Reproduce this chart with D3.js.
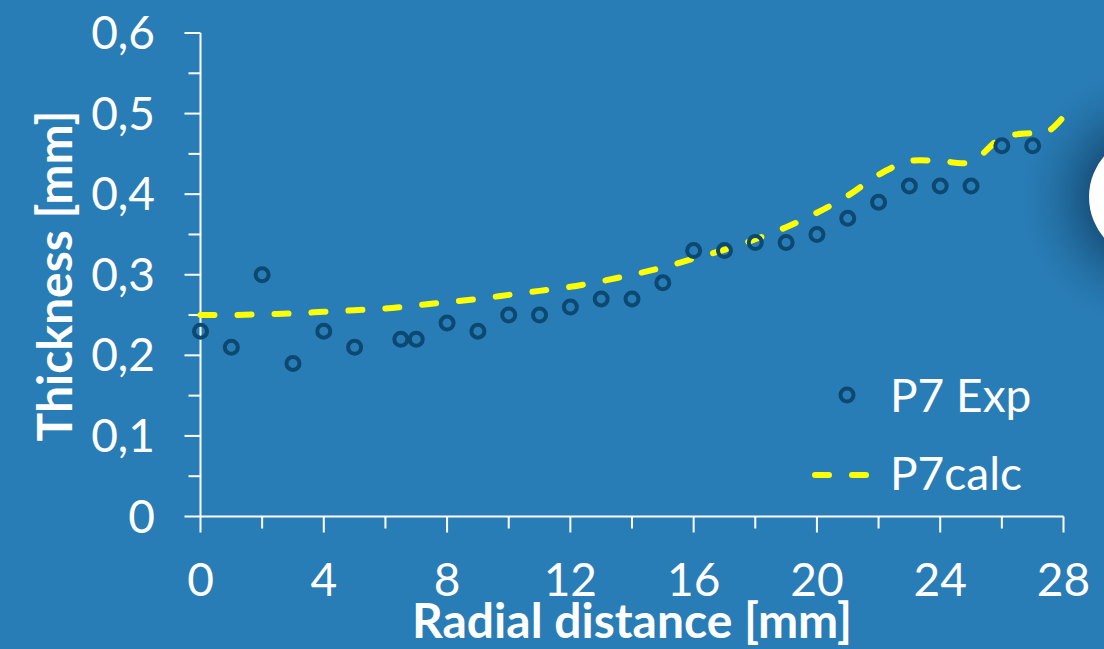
<!DOCTYPE html>
<html><head><meta charset="utf-8">
<script src="https://cdn.jsdelivr.net/npm/d3@7"></script>
<style>
html,body{margin:0;padding:0;background:#297db7;}
svg{display:block;font-family:Lato, "Open Sans", sans-serif;}
</style></head><body>
<svg id="chart" width="1104" height="649"></svg>
<script>
const expX = [0,1,2,3,4,5,6.5,7,8,9,10,11,12,13,14,15,16,17,18,19,20,21,22,23,24,25,26,27];
const expY = [0.23,0.21,0.30,0.19,0.23,0.21,0.22,0.22,0.24,0.23,0.25,0.25,0.26,0.27,0.27,0.29,0.33,0.33,0.34,0.34,0.35,0.37,0.39,0.41,0.41,0.41,0.46,0.46];
const calcX = [0,1,2,3,4,5,6,7,8,9,10,11,12,13,14,15,16,17,18,19,20,21,22,23,24,25,26,27,27.5,28];
const calcY = [0.250,0.250,0.251,0.252,0.254,0.256,0.258,0.262,0.266,0.270,0.275,0.280,0.285,0.292,0.300,0.309,0.320,0.331,0.344,0.359,0.377,0.398,0.424,0.441,0.441,0.440,0.470,0.476,0.478,0.496];
const xTicks = [0,4,8,12,16,20,24,28];
const yTicks = [0,0.1,0.2,0.3,0.4,0.5,0.6];
const yTickLabels = ["0","0,1","0,2","0,3","0,4","0,5","0,6"];
const seriesNames = ["P7 Exp","P7calc"];

const svg = d3.select("#chart");
const W = 1104, H = 649;
svg.append("rect").attr("width",W).attr("height",H).attr("fill","#297db7");

// decorative shadowed circle on right
const defs = svg.append("defs");
const rg = defs.append("radialGradient").attr("id","shadow");
rg.append("stop").attr("offset","0.42").attr("stop-color","#164e78").attr("stop-opacity",0.9);
rg.append("stop").attr("offset","0.6").attr("stop-color","#1b5b88").attr("stop-opacity",0.6);
rg.append("stop").attr("offset","1").attr("stop-color","#297db7").attr("stop-opacity",0);
svg.append("circle").attr("cx",1152).attr("cy",197).attr("r",145).attr("fill","url(#shadow)");
svg.append("circle").attr("cx",1152).attr("cy",197).attr("r",63).attr("fill","#ffffff");

const x = d3.scaleLinear().domain([0,28]).range([200.5,1063.5]);
const y = d3.scaleLinear().domain([0,0.6]).range([516.5,33]);

const white = "#ffffff";
// y axis
const yAxis = svg.append("g");
yAxis.append("line").attr("x1",x(0)).attr("x2",x(0)).attr("y1",y(0)).attr("y2",y(0.6)).attr("stroke",white).attr("stroke-width",2);
d3.range(0,0.6001,0.05).forEach((v,i)=>{
  const major = i%2===0;
  yAxis.append("line").attr("x1",x(0)).attr("x2",x(0)-(major?16:12)).attr("y1",y(v)).attr("y2",y(v)).attr("stroke",white).attr("stroke-width",2);
});
yAxis.selectAll("text.yl").data(yTicks).enter().append("text")
  .attr("x",155).attr("y",d=>y(d)+16).attr("text-anchor","end")
  .attr("font-size",46).attr("fill",white).text((d,i)=>yTickLabels[i]);

// x axis
const xAxis = svg.append("g");
xAxis.append("line").attr("x1",x(0)).attr("x2",x(28)).attr("y1",y(0)).attr("y2",y(0)).attr("stroke",white).attr("stroke-width",2);
d3.range(0,28.01,2).forEach((v,i)=>{
  const major = i%2===0;
  xAxis.append("line").attr("x1",x(v)).attr("x2",x(v)).attr("y1",y(0)).attr("y2",y(0)+(major?16:12)).attr("stroke",white).attr("stroke-width",2);
});
xAxis.selectAll("text.xl").data(xTicks).enter().append("text")
  .attr("x",d=>x(d)).attr("y",596).attr("text-anchor","middle")
  .attr("font-size",46).attr("fill",white).text(d=>d);

// axis titles
svg.append("text").attr("x",632).attr("y",638).attr("text-anchor","middle")
  .attr("font-size",48).attr("font-weight","bold").attr("fill",white).text("Radial distance [mm]");
svg.append("text").attr("transform","translate(72,276) rotate(-90)").attr("text-anchor","middle")
  .attr("font-size",48).attr("font-weight","bold").attr("fill",white).text("Thickness [mm]");

// calc line
const calcData = calcX.map((d,i)=>[d,calcY[i]]);
const line = d3.line().x(d=>x(d[0])).y(d=>y(d[1])).curve(d3.curveCatmullRom.alpha(0.5));
svg.append("path").datum(calcData).attr("d",line).attr("fill","none")
  .attr("stroke","#ffff00").attr("stroke-width",6).attr("stroke-linecap","round")
  .attr("stroke-dasharray","14,23");

// exp points
const expData = expX.map((d,i)=>[d,expY[i]]);
svg.selectAll("circle.exp").data(expData).enter().append("circle")
  .attr("class","exp").attr("cx",d=>x(d[0])).attr("cy",d=>y(d[1])).attr("r",6.5)
  .attr("fill","none").attr("stroke","#0c4870").attr("stroke-width",4);

// legend
const lg = svg.append("g");
lg.append("circle").attr("cx",847).attr("cy",395).attr("r",6.5).attr("fill","none").attr("stroke","#0c4870").attr("stroke-width",4);
lg.append("text").attr("x",890).attr("y",412).attr("font-size",46).attr("fill",white).text(seriesNames[0]);
lg.append("line").attr("x1",815).attr("x2",867).attr("y1",475).attr("y2",475)
  .attr("stroke","#ffff00").attr("stroke-width",6).attr("stroke-linecap","round").attr("stroke-dasharray","14,23");
lg.append("text").attr("x",890).attr("y",490).attr("font-size",46).attr("fill",white).text(seriesNames[1]);
</script>
</body></html>
